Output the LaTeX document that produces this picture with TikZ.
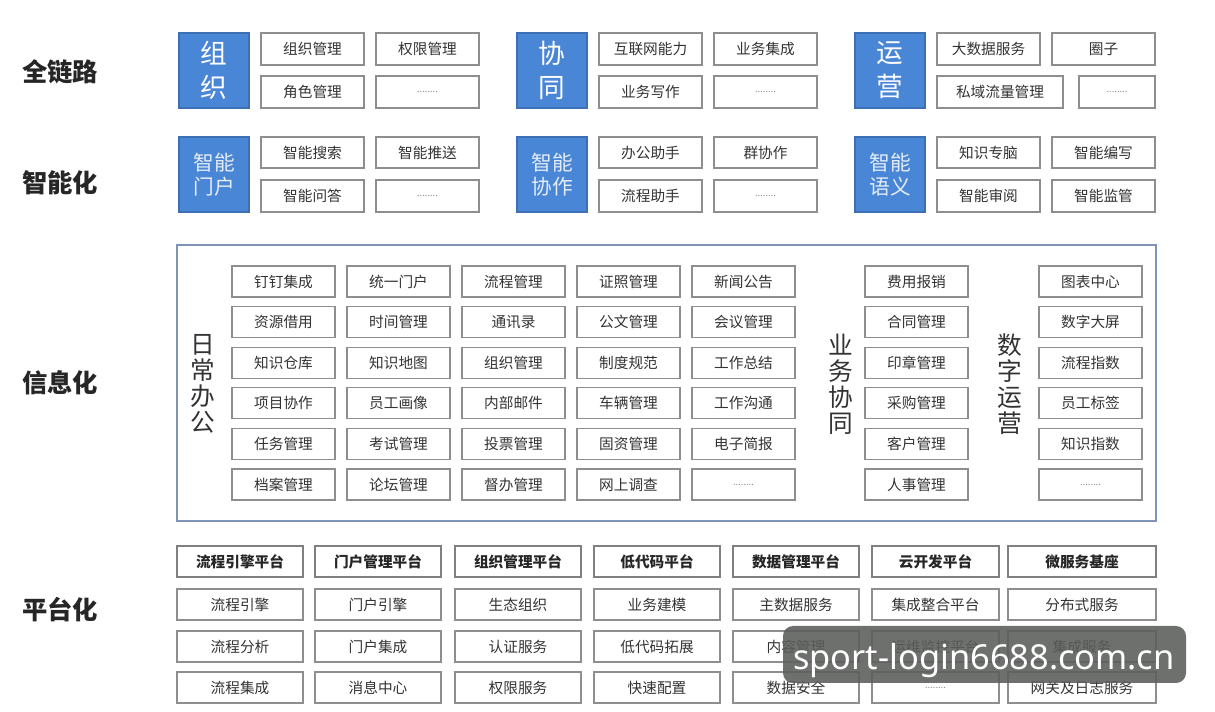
\documentclass[tikz,border=0pt]{standalone}
\usepackage{fontspec}
\newfontfamily\cjk{Noto Sans CJK SC}
\newfontfamily\wmfont{Noto Sans}
\definecolor{bluefill}{HTML}{4A86D6}
\definecolor{blueedge}{HTML}{3D6FB5}
\definecolor{boxedge}{HTML}{8E8E8E}
\definecolor{txt}{HTML}{333333}
\definecolor{frameedge}{HTML}{7F93B6}
\definecolor{wmgray}{HTML}{5B5D5B}
\tikzset{
  sbox/.style={draw=boxedge, line width=0.9pt, fill=white, inner sep=0pt, font=\cjk\fontsize{11}{13}\selectfont, text=txt},
  bbox/.style={draw=blueedge, line width=0.8pt, fill=bluefill, inner sep=0pt, text=white, align=center},
  bigt/.style={font=\cjk\fontsize{20}{25.5}\selectfont},
  midt/.style={font=\cjk\fontsize{15.5}{18}\selectfont, text=white!85!bluefill},
  lvl/.style={font=\cjk\bfseries\fontsize{19}{22}\selectfont, text=black!85},
  vlab/.style={font=\cjk\fontsize{18.5}{19.5}\selectfont, align=center, text=txt},
  pboxb/.style={font=\cjk\bfseries\fontsize{11}{13}\selectfont, text=black!85, draw=black!50},
  framebox/.style={draw=frameedge, line width=1.1pt, fill=white, inner sep=0pt},
}
\newcommand\dotz{{\color{black!45}\fontsize{7}{8}\selectfont ........}}
\newcommand\bx[7][]{\node[sbox,#1,minimum width={((#5)-(#3))*0.75pt},minimum height={((#6)-(#4))*0.75pt}] (#2) at ({((#3)+(#5))/2},{((#4)+(#6))/2}) {#7};}
\begin{document}
\begin{tikzpicture}[x=0.75pt,y=-0.75pt]
\useasboundingbox[fill=white] (0,0) rectangle (1215,712);
% level labels
\node[lvl] (l1) at (60,72) {全链路};
\node[lvl] (l2) at (60,183) {智能化};
\node[lvl] (l3) at (60,383) {信息化};
\node[lvl] (l4) at (60,610) {平台化};
% row 1
\bx[bbox,bigt]{g1}{179}{33}{249}{108}{组\\织}
\bx{a1}{261}{33}{364}{65}{组织管理}
\bx{a2}{376}{33}{479}{65}{权限管理}
\bx{a3}{261}{76}{364}{108}{角色管理}
\bx{a4}{376}{76}{479}{108}{\dotz}
\bx[bbox,bigt]{g2}{517}{33}{587}{108}{协\\同}
\bx{b1}{599}{33}{702}{65}{互联网能力}
\bx{b2}{714}{33}{817}{65}{业务集成}
\bx{b3}{599}{76}{702}{108}{业务写作}
\bx{b4}{714}{76}{817}{108}{\dotz}
\bx[bbox,bigt]{g3}{855}{33}{925}{108}{运\\营}
\bx{c1}{937}{33}{1040}{65}{大数据服务}
\bx{c2}{1052}{33}{1155}{65}{圈子}
\bx{c3}{937}{76}{1063}{108}{私域流量管理}
\bx{c4}{1079}{76}{1155}{108}{\dotz}
% row 2
\bx[bbox,midt]{h1}{179}{137}{249}{212}{智能\\门户}
\bx{d1}{261}{137}{364}{168}{智能搜索}
\bx{d2}{376}{137}{479}{168}{智能推送}
\bx{d3}{261}{180}{364}{212}{智能问答}
\bx{d4}{376}{180}{479}{212}{\dotz}
\bx[bbox,midt]{h2}{517}{137}{587}{212}{智能\\协作}
\bx{e1}{599}{137}{702}{168}{办公助手}
\bx{e2}{714}{137}{817}{168}{群协作}
\bx{e3}{599}{180}{702}{212}{流程助手}
\bx{e4}{714}{180}{817}{212}{\dotz}
\bx[bbox,midt]{h3}{855}{137}{925}{212}{智能\\语义}
\bx{f1}{937}{137}{1040}{168}{知识专脑}
\bx{f2}{1052}{137}{1155}{168}{智能编写}
\bx{f3}{937}{180}{1040}{212}{智能审阅}
\bx{f4}{1052}{180}{1155}{212}{智能监管}
% info frame
\bx[framebox]{frame}{177}{245}{1156}{521}{}
\node[vlab] (v1) at (203,384) {日\\常\\办\\公};
\node[vlab] (v2) at (841,384) {业\\务\\协\\同};
\node[vlab] (v3) at (1010,384) {数\\字\\运\\营};
\foreach \t [count=\r] in {钉钉集成,资源借用,知识仓库,项目协作,任务管理,档案管理}
  {\bx{i1-\r}{232}{266+40.6*(\r-1)}{335}{297+40.6*(\r-1)}{\t}}
\foreach \t [count=\r] in {统一门户,时间管理,知识地图,员工画像,考试管理,论坛管理}
  {\bx{i2-\r}{347}{266+40.6*(\r-1)}{450}{297+40.6*(\r-1)}{\t}}
\foreach \t [count=\r] in {流程管理,通讯录,组织管理,内部邮件,投票管理,督办管理}
  {\bx{i3-\r}{462}{266+40.6*(\r-1)}{565}{297+40.6*(\r-1)}{\t}}
\foreach \t [count=\r] in {证照管理,公文管理,制度规范,车辆管理,固资管理,网上调查}
  {\bx{i4-\r}{577}{266+40.6*(\r-1)}{680}{297+40.6*(\r-1)}{\t}}
\foreach \t [count=\r] in {新闻公告,会议管理,工作总结,工作沟通,电子简报,\dotz}
  {\bx{i5-\r}{692}{266+40.6*(\r-1)}{795}{297+40.6*(\r-1)}{\t}}
\foreach \t [count=\r] in {费用报销,合同管理,印章管理,采购管理,客户管理,人事管理}
  {\bx{i6-\r}{865}{266+40.6*(\r-1)}{968}{297+40.6*(\r-1)}{\t}}
\foreach \t [count=\r] in {图表中心,数字大屏,流程指数,员工标签,知识指数,\dotz}
  {\bx{i7-\r}{1039}{266+40.6*(\r-1)}{1142}{297+40.6*(\r-1)}{\t}}
% platform
\bx[pboxb]{p11}{177}{546}{303}{577}{流程引擎平台}
\bx{p12}{177}{589}{303}{620}{流程引擎}
\bx{p13}{177}{631}{303}{662}{流程分析}
\bx{p14}{177}{672}{303}{703}{流程集成}
\bx[pboxb]{p21}{315}{546}{441}{577}{门户管理平台}
\bx{p22}{315}{589}{441}{620}{门户引擎}
\bx{p23}{315}{631}{441}{662}{门户集成}
\bx{p24}{315}{672}{441}{703}{消息中心}
\bx[pboxb]{p31}{455}{546}{581}{577}{组织管理平台}
\bx{p32}{455}{589}{581}{620}{生态组织}
\bx{p33}{455}{631}{581}{662}{认证服务}
\bx{p34}{455}{672}{581}{703}{权限服务}
\bx[pboxb]{p41}{594}{546}{720}{577}{低代码平台}
\bx{p42}{594}{589}{720}{620}{业务建模}
\bx{p43}{594}{631}{720}{662}{低代码拓展}
\bx{p44}{594}{672}{720}{703}{快速配置}
\bx[pboxb]{p51}{733}{546}{859}{577}{数据管理平台}
\bx{p52}{733}{589}{859}{620}{主数据服务}
\bx{p53}{733}{631}{859}{662}{内容管理}
\bx{p54}{733}{672}{859}{703}{数据安全}
\bx[pboxb]{p61}{872}{546}{999}{577}{云开发平台}
\bx{p62}{872}{589}{999}{620}{集成整合平台}
\bx{p63}{872}{631}{999}{662}{运维监控平台}
\bx{p64}{872}{672}{999}{703}{\dotz}
\bx[pboxb]{p71}{1008}{546}{1156}{577}{微服务基座}
\bx{p72}{1008}{589}{1156}{620}{分布式服务}
\bx{p73}{1008}{631}{1156}{662}{集成服务}
\bx{p74}{1008}{672}{1156}{703}{网关及日志服务}
% watermark
\fill[wmgray, fill opacity=0.88, rounded corners=7.5pt] (783,626) rectangle (1186,683);
\node[anchor=base, text=white, inner sep=0pt, font=\wmfont\fontsize{25.8}{30}\selectfont] (wm) at (984,670) {sport-login6688.com.cn};
\end{tikzpicture}
\end{document}
